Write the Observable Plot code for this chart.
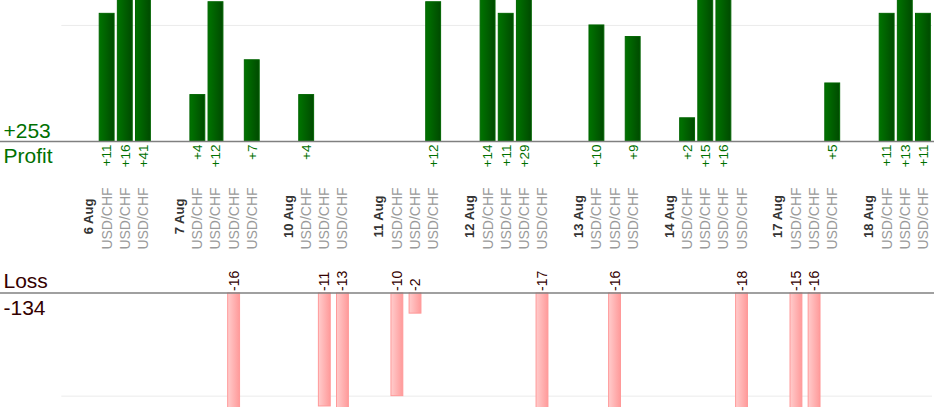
<!DOCTYPE html>
<html>
<head>
<meta charset="utf-8">
<script src="https://cdn.jsdelivr.net/npm/d3@7"></script>
<script src="https://cdn.jsdelivr.net/npm/@observablehq/plot@0.6"></script>
<style>
  html, body { margin: 0; padding: 0; background: #fff; }
  #chart svg { display: block; }
</style>
</head>
<body>
<div id="chart"></div>
<script>
// ---- data ----
const dates = ["6 Aug", "7 Aug", "10 Aug", "11 Aug", "12 Aug", "13 Aug", "14 Aug", "17 Aug", "18 Aug"];
const symbol = "USD/CHF";
const aug06 = [11, 16, 41];
const aug07 = [4, 12, -16, 7];
const aug10 = [4, -11, -13];
const aug11 = [-10, -2, 12];
const aug12 = [14, 11, 29, -17];
const aug13 = [10, -16, 9];
const aug14 = [2, 15, 16, -18];
const aug17 = [-15, -16, 5];
const aug18 = [11, 13, 11];
const results = [aug06, aug07, aug10, aug11, aug12, aug13, aug14, aug17, aug18];
const profitGrid = [10];
const lossGrid = [-10];

// ---- slots: gap, date, trades per day ----
const slots = [];
dates.forEach((d, i) => {
  slots.push({key: `g${i}`, type: "gap"});
  slots.push({key: `d${i}`, type: "date", label: d});
  results[i].forEach((v, j) => slots.push({key: `t${i}_${j}`, type: "trade", label: symbol, value: v}));
});
const trades = slots.filter(s => s.type === "trade");
const profits = trades.filter(s => s.value > 0);
const losses = trades.filter(s => s.value < 0);
const totalProfit = d3.sum(profits, d => d.value);
const totalLoss = d3.sum(losses, d => d.value);

const W = 934, ML = 61.3, MR = 2;
const font = "'Liberation Sans', Arial, sans-serif";
const xScale = {domain: slots.map(s => s.key), paddingInner: 0.18, paddingOuter: 0.09, round: false, axis: null};

const defs = () => {
  const g = d3.create("svg:defs");
  const gg = g.append("linearGradient").attr("id", "gGreen").attr("x1", "0").attr("x2", "1").attr("y1", "0").attr("y2", "0");
  gg.append("stop").attr("offset", "0%").attr("stop-color", "#007400");
  gg.append("stop").attr("offset", "100%").attr("stop-color", "#004a00");
  const gr = g.append("linearGradient").attr("id", "gRed").attr("x1", "0").attr("x2", "1").attr("y1", "0").attr("y2", "0");
  gr.append("stop").attr("offset", "0%").attr("stop-color", "#ffcccc");
  gr.append("stop").attr("offset", "100%").attr("stop-color", "#ff9a9a");
  return g.node();
};

const profitChart = Plot.plot({
  width: W, height: 250,
  marginLeft: ML, marginRight: MR, marginTop: 0, marginBottom: 109,
  style: {fontFamily: font, background: "#fff"},
  x: xScale,
  y: {domain: [0, 12.15], axis: null},
  marks: [
    defs,
    Plot.ruleY(profitGrid, {stroke: "#ebebeb", strokeWidth: 1}),
    Plot.barY(profits, {x: "key", y: "value", fill: "url(#gGreen)", stroke: "#006400", strokeWidth: 1, clip: true}),
    Plot.ruleY([0], {stroke: "#808080", strokeWidth: 1.3, insetLeft: -ML, insetRight: -MR}),
    Plot.text(profits, {x: "key", y: 0, text: d => "+" + d.value, rotate: -90, textAnchor: "end", dy: 3, fill: "#007000", fontSize: 13.5}),
    Plot.text(slots.filter(s => s.type === "date"), {x: "key", y: 0, text: "label", rotate: -90, textAnchor: "middle", dy: 75, fill: "#333", fontWeight: "bold", fontSize: 13}),
    Plot.text(trades, {x: "key", y: 0, text: "label", rotate: -90, textAnchor: "middle", dy: 77, fill: "#9a9a9a", fontSize: 14}),
    Plot.text([totalProfit], {frameAnchor: "bottom-left", text: d => "+" + d, textAnchor: "start", lineAnchor: "bottom", dx: 3 - ML, dy: -4, fill: "#007000", fontSize: 21}),
    Plot.text(["Profit"], {frameAnchor: "bottom-left", text: d => d, textAnchor: "start", lineAnchor: "bottom", dx: 3 - ML, dy: 21, fill: "#007000", fontSize: 21})
  ]
});

const lossChart = Plot.plot({
  width: W, height: 170,
  marginLeft: ML, marginRight: MR, marginTop: 42.5, marginBottom: 13,
  style: {fontFamily: font, background: "#fff"},
  x: xScale,
  y: {domain: [-11.1, 0], axis: null},
  marks: [
    defs,
    Plot.ruleY(lossGrid, {stroke: "#ebebeb", strokeWidth: 1}),
    Plot.barY(losses, {x: "key", y: "value", fill: "url(#gRed)", stroke: "#ff9999", strokeWidth: 1, insetLeft: 1.5, insetRight: 1.5, clip: true}),
    Plot.ruleY([0], {stroke: "#808080", strokeWidth: 1.3, insetLeft: -ML, insetRight: -MR}),
    Plot.text(losses, {x: "key", y: 0, text: d => String(d.value), rotate: -90, textAnchor: "start", dy: -2, fill: "#330000", fontSize: 14}),
    Plot.text(["Loss"], {frameAnchor: "top-left", text: d => d, textAnchor: "start", lineAnchor: "bottom", dx: 3 - ML, dy: -5.5, fill: "#330000", fontSize: 21}),
    Plot.text([totalLoss], {frameAnchor: "top-left", text: d => String(d), textAnchor: "start", lineAnchor: "bottom", dx: 3 - ML, dy: 21.5, fill: "#330000", fontSize: 21})
  ]
});

document.getElementById("chart").append(profitChart, lossChart);
</script>
</body>
</html>
